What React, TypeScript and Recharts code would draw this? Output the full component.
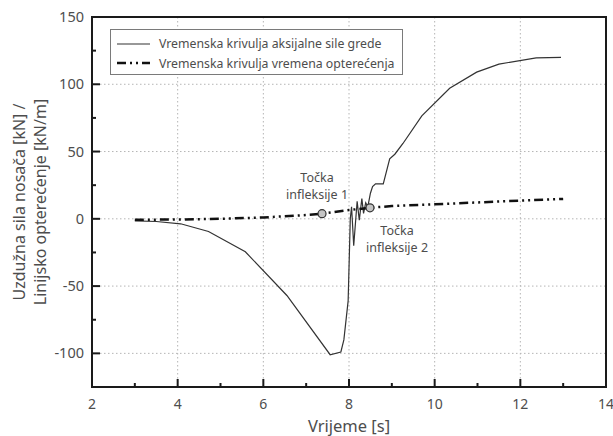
import React from 'react';
import {
  LineChart,
  Line,
  XAxis,
  YAxis,
  CartesianGrid,
  ReferenceArea,
  Legend,
  Label,
} from 'recharts';

// axial force of the beam over time
const forceTime = [
  3.0, 3.5, 4.07, 4.72, 5.58, 6.55, 7.56, 7.81, 7.88, 7.98, 8.03, 8.06, 8.11, 8.19, 8.24, 8.3,
  8.34, 8.39, 8.44, 8.5, 8.55, 8.62, 8.8, 8.95, 9.07, 9.26, 9.7, 10.35, 10.98, 11.5, 12.37, 12.95,
];
const forceValue = [
  -1.5, -2, -3.7, -9.4, -24.5, -57, -101, -99, -90, -61, 0, 9, -20, 13, -1, 15, 4, 12, 9, 19, 24,
  26, 26, 44.6, 48, 56, 76.5, 97, 109, 115, 119.6, 120,
];

// line load over time
const loadTime = [3, 4, 5, 6, 7, 7.37, 8, 8.49, 9, 10, 11, 12, 13];
const loadValue = [-0.7, -0.5, 0, 1, 2.8, 3.8, 6.5, 8.2, 9.5, 10.8, 12.2, 13.5, 14.8];
const inflectionIndex = [5, 7];
const inflectionLabel = ['infleksije 1', 'infleksije 2'];

const xMajor = [2, 4, 6, 8, 10, 12, 14];
const xMinor = [3, 5, 7, 9, 11, 13];
const yMajor = [-100, -50, 0, 50, 100, 150];
const yMinor = [-75, -25, 25, 75, 125];

const seriesNames = [
  'Vremenska krivulja aksijalne sile grede',
  'Vremenska krivulja vremena opterećenja',
];

const FONT = '"Noto Sans", "Open Sans", sans-serif';
const TEXT = '#4d4d4d';
const LOAD_DASH = '9 4 2 4 2 4';

const forceData = forceTime.map((t, i) => ({ t, v: forceValue[i] }));
const loadData = loadTime.map((t, i) => ({
  t,
  v: loadValue[i],
  mark: inflectionIndex.indexOf(i),
}));

const XTick = (props: any) => {
  const { x, y, payload } = props;
  const major = xMajor.includes(payload.value);
  return (
    <g>
      <line x1={x} y1={y} x2={x} y2={y - (major ? 8 : 4)} stroke="#1a1a1a" strokeWidth={2} />
      {major && (
        <text x={x} y={y + 22} textAnchor="middle" fill={TEXT} fontSize={14} fontFamily={FONT}>
          {payload.value}
        </text>
      )}
    </g>
  );
};

const YTick = (props: any) => {
  const { x, y, payload } = props;
  const major = yMajor.includes(payload.value);
  if (payload.value === -125) return <g />;
  return (
    <g>
      <line x1={x} y1={y} x2={x + (major ? 8 : 4)} y2={y} stroke="#1a1a1a" strokeWidth={2} />
      {major && (
        <text x={x - 8} y={y + 5} textAnchor="end" fill={TEXT} fontSize={14.5} fontFamily={FONT}>
          {payload.value}
        </text>
      )}
    </g>
  );
};

const YTitle = (props: any) => {
  const { viewBox } = props;
  const cy = viewBox.y + viewBox.height / 2;
  return (
    <text
      transform={`translate(0, ${cy}) rotate(-90)`}
      textAnchor="middle"
      fill={TEXT}
      fontSize={16}
      fontFamily={FONT}
    >
      <tspan x={0} y={25}>Uzdužna sila nosača [kN] /</tspan>
      <tspan x={0} y={46}>Linijsko opterećenje [kN/m]</tspan>
    </text>
  );
};

const InflectionDot = (props: any) => {
  const { cx, cy, payload, index } = props;
  if (payload.mark < 0) return <g key={index} />;
  const first = payload.mark === 0;
  const tx = cx + (first ? -5 : 27);
  const ty = cy + (first ? -32 : 27);
  return (
    <g key={index}>
      <circle cx={cx} cy={cy} r={4} fill="#c4c4c4" stroke="#333" strokeWidth={1.2} />
      <text x={tx} y={ty} textAnchor="middle" fill={TEXT} fontSize={12.5} fontFamily={FONT}>
        Točka
      </text>
      <text x={tx} y={ty + 17} textAnchor="middle" fill={TEXT} fontSize={12.5} fontFamily={FONT}>
        {inflectionLabel[payload.mark]}
      </text>
    </g>
  );
};

const LegendBox = () => (
  <div
    style={{
      border: '1.5px solid #7a7a7a',
      background: '#fff',
      width: 293,
      height: 46,
      boxSizing: 'border-box',
      padding: '4px 0 0 6px',
      fontFamily: FONT,
      fontSize: 12.3,
      color: TEXT,
    }}
  >
    {seriesNames.map((name, i) => (
      <div key={name} style={{ display: 'flex', alignItems: 'center', height: 19.5 }}>
        <svg width={34} height={6} style={{ marginRight: 8 }}>
          <line
            x1={0}
            y1={3}
            x2={33}
            y2={3}
            stroke={i === 0 ? '#333' : '#111'}
            strokeWidth={i === 0 ? 1.2 : 2.5}
            strokeDasharray={i === 0 ? undefined : LOAD_DASH}
          />
        </svg>
        <span>{name}</span>
      </div>
    ))}
  </div>
);

export default function App() {
  return (
    <div style={{ position: 'absolute', left: 0, top: 0, background: '#fff' }}>
      <LineChart width={613} height={436} margin={{ top: 17, right: 7, bottom: 0, left: 0 }}>
        <CartesianGrid
          stroke="#b5b5b5"
          strokeDasharray="1.5 2.5"
          verticalValues={[4, 6, 8, 10, 12]}
          horizontalValues={[-100, -50, 0, 50, 100]}
        />
        <XAxis
          type="number"
          dataKey="t"
          domain={[2, 14]}
          ticks={[...xMajor, ...xMinor].sort((a, b) => a - b)}
          interval={0}
          height={49}
          tickSize={0}
          tickMargin={0}
          tickLine={false}
          tick={<XTick />}
          axisLine={{ stroke: '#1a1a1a', strokeWidth: 2 }}
          allowDuplicatedCategory={false}
        >
          <Label
            value="Vrijeme [s]"
            position="insideBottom"
            offset={4}
            fill={TEXT}
            fontSize={16.5}
            fontFamily={FONT}
          />
        </XAxis>
        <YAxis
          type="number"
          dataKey="v"
          domain={[-125, 150]}
          ticks={[-125, ...yMajor, ...yMinor].sort((a, b) => a - b)}
          interval={0}
          width={92}
          tickSize={0}
          tickMargin={0}
          tickLine={false}
          tick={<YTick />}
          axisLine={{ stroke: '#1a1a1a', strokeWidth: 2 }}
        >
          <Label content={<YTitle />} />
        </YAxis>
        <ReferenceArea
          x1={2}
          x2={14}
          y1={-125}
          y2={150}
          fill="none"
          stroke="#1a1a1a"
          strokeWidth={2}
        />
        <Legend
          layout="vertical"
          align="center"
          verticalAlign="middle"
          wrapperStyle={{ left: 110, top: 29, width: 293, height: 46 }}
          content={<LegendBox />}
        />
        <Line
          data={forceData}
          dataKey="v"
          name={seriesNames[0]}
          stroke="#333"
          strokeWidth={1.2}
          dot={false}
          isAnimationActive={false}
        />
        <Line
          data={loadData}
          dataKey="v"
          name={seriesNames[1]}
          stroke="#111"
          strokeWidth={2.5}
          strokeDasharray={LOAD_DASH}
          dot={<InflectionDot />}
          activeDot={false}
          isAnimationActive={false}
        />
      </LineChart>
    </div>
  );
}
